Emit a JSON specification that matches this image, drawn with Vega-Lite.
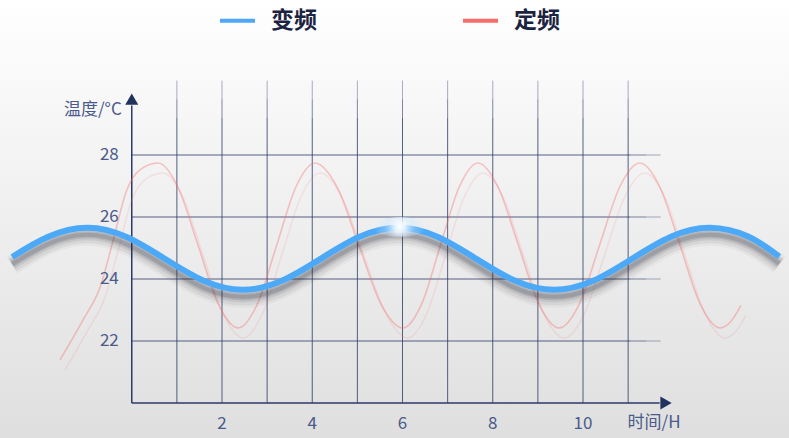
{
  "$schema": "https://vega.github.io/schema/vega-lite/v6.json",
  "width": 789,
  "height": 438,
  "padding": 0,
  "autosize": {"type": "none"},
  "background": "#ffffff",
  "config": {"view": {"stroke": null}, "font": "Noto Sans CJK SC"},
  "datasets": {
    "curves": [
      {"series": "变频", "x": -2.65, "y": 24.71},
      {"series": "变频", "x": -1.8525, "y": 25.36},
      {"series": "变频", "x": -0.99, "y": 25.65},
      {"series": "变频", "x": -0.1275, "y": 25.36},
      {"series": "变频", "x": 0.735, "y": 24.65},
      {"series": "变频", "x": 1.5975, "y": 23.94},
      {"series": "变频", "x": 2.46, "y": 23.65},
      {"series": "变频", "x": 3.3225, "y": 23.94},
      {"series": "变频", "x": 4.185, "y": 24.65},
      {"series": "变频", "x": 5.0475, "y": 25.36},
      {"series": "变频", "x": 5.91, "y": 25.65},
      {"series": "变频", "x": 6.7725, "y": 25.36},
      {"series": "变频", "x": 7.635, "y": 24.65},
      {"series": "变频", "x": 8.4975, "y": 23.94},
      {"series": "变频", "x": 9.36, "y": 23.65},
      {"series": "变频", "x": 10.2225, "y": 23.94},
      {"series": "变频", "x": 11.085, "y": 24.65},
      {"series": "变频", "x": 11.9475, "y": 25.36},
      {"series": "变频", "x": 12.81, "y": 25.65},
      {"series": "变频", "x": 13.6725, "y": 25.36},
      {"series": "变频", "x": 14.35, "y": 24.72},
      {"series": "定频", "x": -1.59, "y": 21.39},
      {"series": "定频", "x": -1.08, "y": 22.68},
      {"series": "定频", "x": -0.7, "y": 23.74},
      {"series": "定频", "x": -0.41, "y": 25.26},
      {"series": "定频", "x": -0.11, "y": 26.87},
      {"series": "定频", "x": 0.18, "y": 27.52},
      {"series": "定频", "x": 0.58, "y": 27.74},
      {"series": "定频", "x": 1.025, "y": 26.96},
      {"series": "定频", "x": 1.47, "y": 25.08},
      {"series": "定频", "x": 1.915, "y": 23.2},
      {"series": "定频", "x": 2.36, "y": 22.42},
      {"series": "定频", "x": 2.785, "y": 23.2},
      {"series": "定频", "x": 3.21, "y": 25.08},
      {"series": "定频", "x": 3.635, "y": 26.96},
      {"series": "定频", "x": 4.06, "y": 27.74},
      {"series": "定频", "x": 4.55, "y": 26.96},
      {"series": "定频", "x": 5.035, "y": 25.08},
      {"series": "定频", "x": 5.52, "y": 23.2},
      {"series": "定频", "x": 6.01, "y": 22.42},
      {"series": "定频", "x": 6.425, "y": 23.2},
      {"series": "定频", "x": 6.84, "y": 25.08},
      {"series": "定频", "x": 7.255, "y": 26.96},
      {"series": "定频", "x": 7.67, "y": 27.74},
      {"series": "定频", "x": 8.12, "y": 26.96},
      {"series": "定频", "x": 8.57, "y": 25.08},
      {"series": "定频", "x": 9.02, "y": 23.2},
      {"series": "定频", "x": 9.47, "y": 22.42},
      {"series": "定频", "x": 9.92, "y": 23.2},
      {"series": "定频", "x": 10.365, "y": 25.08},
      {"series": "定频", "x": 10.81, "y": 26.96},
      {"series": "定频", "x": 11.26, "y": 27.74},
      {"series": "定频", "x": 11.705, "y": 26.96},
      {"series": "定频", "x": 12.15, "y": 25.08},
      {"series": "定频", "x": 12.595, "y": 23.2},
      {"series": "定频", "x": 13.04, "y": 22.42},
      {"series": "定频", "x": 13.27, "y": 22.62},
      {"series": "定频", "x": 13.5, "y": 23.15}
    ],
    "bg": [{"x": -2.92, "x2": 14.565, "y": 18.871, "y2": 33.0}],
    "grid": [
      {"part": "main", "x": 0, "x2": 11.05, "y": 22, "y2": 22},
      {"part": "fade1", "x": 11.05, "x2": 11.4, "y": 22, "y2": 22},
      {"part": "fade2", "x": 11.4, "x2": 11.72, "y": 22, "y2": 22},
      {"part": "main", "x": 0, "x2": 11.05, "y": 24, "y2": 24},
      {"part": "fade1", "x": 11.05, "x2": 11.4, "y": 24, "y2": 24},
      {"part": "fade2", "x": 11.4, "x2": 11.72, "y": 24, "y2": 24},
      {"part": "main", "x": 0, "x2": 11.05, "y": 26, "y2": 26},
      {"part": "fade1", "x": 11.05, "x2": 11.4, "y": 26, "y2": 26},
      {"part": "fade2", "x": 11.4, "x2": 11.72, "y": 26, "y2": 26},
      {"part": "main", "x": 0, "x2": 11.05, "y": 28, "y2": 28},
      {"part": "fade1", "x": 11.05, "x2": 11.4, "y": 28, "y2": 28},
      {"part": "fade2", "x": 11.4, "x2": 11.72, "y": 28, "y2": 28},
      {"part": "main", "x": 1, "x2": 1, "y": 20, "y2": 29.2},
      {"part": "fade1", "x": 1, "x2": 1, "y": 29.2, "y2": 29.8},
      {"part": "fade2", "x": 1, "x2": 1, "y": 29.8, "y2": 30.4},
      {"part": "main", "x": 2, "x2": 2, "y": 20, "y2": 29.2},
      {"part": "fade1", "x": 2, "x2": 2, "y": 29.2, "y2": 29.8},
      {"part": "fade2", "x": 2, "x2": 2, "y": 29.8, "y2": 30.4},
      {"part": "main", "x": 3, "x2": 3, "y": 20, "y2": 29.2},
      {"part": "fade1", "x": 3, "x2": 3, "y": 29.2, "y2": 29.8},
      {"part": "fade2", "x": 3, "x2": 3, "y": 29.8, "y2": 30.4},
      {"part": "main", "x": 4, "x2": 4, "y": 20, "y2": 29.2},
      {"part": "fade1", "x": 4, "x2": 4, "y": 29.2, "y2": 29.8},
      {"part": "fade2", "x": 4, "x2": 4, "y": 29.8, "y2": 30.4},
      {"part": "main", "x": 5, "x2": 5, "y": 20, "y2": 29.2},
      {"part": "fade1", "x": 5, "x2": 5, "y": 29.2, "y2": 29.8},
      {"part": "fade2", "x": 5, "x2": 5, "y": 29.8, "y2": 30.4},
      {"part": "main", "x": 6, "x2": 6, "y": 20, "y2": 29.2},
      {"part": "fade1", "x": 6, "x2": 6, "y": 29.2, "y2": 29.8},
      {"part": "fade2", "x": 6, "x2": 6, "y": 29.8, "y2": 30.4},
      {"part": "main", "x": 7, "x2": 7, "y": 20, "y2": 29.2},
      {"part": "fade1", "x": 7, "x2": 7, "y": 29.2, "y2": 29.8},
      {"part": "fade2", "x": 7, "x2": 7, "y": 29.8, "y2": 30.4},
      {"part": "main", "x": 8, "x2": 8, "y": 20, "y2": 29.2},
      {"part": "fade1", "x": 8, "x2": 8, "y": 29.2, "y2": 29.8},
      {"part": "fade2", "x": 8, "x2": 8, "y": 29.8, "y2": 30.4},
      {"part": "main", "x": 9, "x2": 9, "y": 20, "y2": 29.2},
      {"part": "fade1", "x": 9, "x2": 9, "y": 29.2, "y2": 29.8},
      {"part": "fade2", "x": 9, "x2": 9, "y": 29.8, "y2": 30.4},
      {"part": "main", "x": 10, "x2": 10, "y": 20, "y2": 29.2},
      {"part": "fade1", "x": 10, "x2": 10, "y": 29.2, "y2": 29.8},
      {"part": "fade2", "x": 10, "x2": 10, "y": 29.8, "y2": 30.4},
      {"part": "main", "x": 11, "x2": 11, "y": 20, "y2": 29.2},
      {"part": "fade1", "x": 11, "x2": 11, "y": 29.2, "y2": 29.8},
      {"part": "fade2", "x": 11, "x2": 11, "y": 29.8, "y2": 30.4}
    ],
    "axes": [
      {"x": 0, "x2": 0, "y": 20, "y2": 29.6},
      {"x": 0, "x2": 11.7, "y": 20, "y2": 20}
    ],
    "arrows": [
      {"x": 0, "y": 29.8, "dir": "up"},
      {"x": 11.84, "y": 20, "dir": "right"}
    ],
    "yticks": [
      {"x": 0, "y": 22, "label": "22"}, {"x": 0, "y": 24, "label": "24"},
      {"x": 0, "y": 26, "label": "26"}, {"x": 0, "y": 28, "label": "28"}
    ],
    "xticks": [
      {"x": 2, "y": 20, "label": "2"}, {"x": 4, "y": 20, "label": "4"},
      {"x": 6, "y": 20, "label": "6"}, {"x": 8, "y": 20, "label": "8"},
      {"x": 10, "y": 20, "label": "10"}
    ],
    "glow": [{"x": 5.94, "y": 25.68}]
  },
  "encoding": {
    "x": {
      "field": "x",
      "type": "quantitative",
      "axis": null,
      "scale": {"domain": [-2.92, 14.565], "nice": false, "zero": false}
    },
    "y": {
      "field": "y",
      "type": "quantitative",
      "axis": null,
      "scale": {"domain": [18.871, 33.0], "nice": false, "zero": false}
    }
  },
  "layer": [
    {
      "data": {"name": "bg"},
      "mark": {
        "type": "rect",
        "fill": {
          "gradient": "linear",
          "x1": 0, "y1": 0, "x2": 0, "y2": 1,
          "stops": [
            {"offset": 0, "color": "#ffffff"},
            {"offset": 0.12, "color": "#fbfbfb"},
            {"offset": 1, "color": "#dfdfdf"}
          ]
        }
      },
      "encoding": {"x2": {"field": "x2"}, "y2": {"field": "y2"}}
    },
    {
      "data": {"name": "grid"},
      "mark": {"type": "rule", "color": "#2d3a66", "strokeWidth": 1},
      "encoding": {
        "x2": {"field": "x2"},
        "y2": {"field": "y2"},
        "opacity": {
          "field": "part",
          "type": "nominal",
          "scale": {"domain": ["main", "fade1", "fade2"], "range": [0.8, 0.4, 0.15]},
          "legend": null
        }
      }
    },
    {
      "data": {"name": "axes"},
      "mark": {"type": "rule", "color": "#2b3966", "strokeWidth": 1.5},
      "encoding": {"x2": {"field": "x2"}, "y2": {"field": "y2"}}
    },
    {
      "data": {"name": "curves"},
      "transform": [{"filter": "datum.series === '定频'"}],
      "mark": {
        "type": "line",
        "interpolate": "monotone",
        "stroke": "#f07a7a",
        "strokeWidth": 1.5,
        "opacity": 0.15,
        "xOffset": 5,
        "yOffset": 10
      },
      "encoding": {}
    },
    {
      "data": {"name": "curves"},
      "transform": [{"filter": "datum.series === '定频'"}],
      "mark": {"type": "line", "interpolate": "monotone", "strokeWidth": 1.6, "opacity": 0.38},
      "encoding": {
        "color": {
          "field": "series",
          "type": "nominal",
          "scale": {"domain": ["变频", "定频"], "range": ["#4ba9f8", "#f76b6b"]},
          "legend": {
            "orient": "none",
            "legendX": 218,
            "legendY": 1,
            "direction": "horizontal",
            "title": null,
            "symbolType": "stroke",
            "symbolStrokeWidth": 4,
            "symbolSize": 1225,
            "symbolOpacity": 1,
            "labelFontSize": 23,
            "labelFontWeight": "bold",
            "labelColor": "#1b2340",
            "labelFont": "Noto Sans CJK SC",
            "labelOffset": 14,
            "columnPadding": 138
          }
        }
      }
    },
    {
      "data": {"name": "curves"},
      "transform": [{"filter": "datum.series === '变频'"}],
      "mark": {"type": "line", "interpolate": "natural", "stroke": "#2a2f3a", "strokeWidth": 20, "opacity": 0.04, "yOffset": 8},
      "encoding": {}
    },
    {
      "data": {"name": "curves"},
      "transform": [{"filter": "datum.series === '变频'"}],
      "mark": {"type": "line", "interpolate": "natural", "stroke": "#2a2f3a", "strokeWidth": 15, "opacity": 0.07, "yOffset": 8},
      "encoding": {}
    },
    {
      "data": {"name": "curves"},
      "transform": [{"filter": "datum.series === '变频'"}],
      "mark": {"type": "line", "interpolate": "natural", "stroke": "#2a2f3a", "strokeWidth": 11, "opacity": 0.09, "yOffset": 7},
      "encoding": {}
    },
    {
      "data": {"name": "curves"},
      "transform": [{"filter": "datum.series === '变频'"}],
      "mark": {"type": "line", "interpolate": "natural", "stroke": "#2a2f3a", "strokeWidth": 7, "opacity": 0.13, "yOffset": 7},
      "encoding": {}
    },
    {
      "data": {"name": "curves"},
      "transform": [{"filter": "datum.series === '变频'"}],
      "mark": {"type": "line", "interpolate": "natural", "stroke": "#2a2f3a", "strokeWidth": 4, "opacity": 0.15, "yOffset": 7},
      "encoding": {}
    },
    {
      "data": {"name": "curves"},
      "transform": [{"filter": "datum.series === '变频'"}],
      "mark": {"type": "line", "interpolate": "natural", "strokeWidth": 6},
      "encoding": {
        "color": {"field": "series", "type": "nominal"}
      }
    },
    {
      "data": {"name": "glow"},
      "mark": {
        "type": "point",
        "filled": true,
        "size": 1100,
        "opacity": 1,
        "strokeWidth": 0,
        "shape": "M-1.6,0 A1.6,0.6 0 1,0 1.6,0 A1.6,0.6 0 1,0 -1.6,0 Z",
        "fill": {
          "gradient": "radial",
          "x1": 0.5, "y1": 0.5, "r1": 0,
          "x2": 0.5, "y2": 0.5, "r2": 0.5,
          "stops": [
            {"offset": 0, "color": "rgba(255,255,255,1)"},
            {"offset": 0.2, "color": "rgba(240,248,255,0.9)"},
            {"offset": 0.55, "color": "rgba(200,230,255,0.35)"},
            {"offset": 1, "color": "rgba(200,230,255,0)"}
          ]
        }
      }
    },
    {
      "data": {"name": "arrows"},
      "mark": {"type": "point", "filled": true, "size": 170, "opacity": 1, "color": "#22325e"},
      "encoding": {
        "shape": {
          "field": "dir",
          "type": "nominal",
          "scale": {"domain": ["up", "right"], "range": ["triangle-up", "triangle-right"]},
          "legend": null
        }
      }
    },
    {
      "data": {"name": "yticks"},
      "mark": {"type": "text", "align": "right", "baseline": "middle", "dx": -13, "fontSize": 17, "color": "#4a5a8a"},
      "encoding": {"text": {"field": "label"}}
    },
    {
      "data": {"name": "xticks"},
      "mark": {"type": "text", "align": "center", "baseline": "middle", "dy": 21, "fontSize": 17, "color": "#4a5a8a"},
      "encoding": {"text": {"field": "label"}}
    },
    {
      "data": {"values": [{"x": 0, "y": 29.8, "label": "温度/°C"}]},
      "mark": {"type": "text", "align": "right", "baseline": "middle", "dx": -10, "dy": 11, "fontSize": 17, "color": "#4a5a8a"},
      "encoding": {"text": {"field": "label"}}
    },
    {
      "data": {"values": [{"x": 11.84, "y": 20, "label": "时间/H"}]},
      "mark": {"type": "text", "align": "center", "baseline": "middle", "dx": -12, "dy": 20, "fontSize": 17, "color": "#4a5a8a"},
      "encoding": {"text": {"field": "label"}}
    }
  ]
}
